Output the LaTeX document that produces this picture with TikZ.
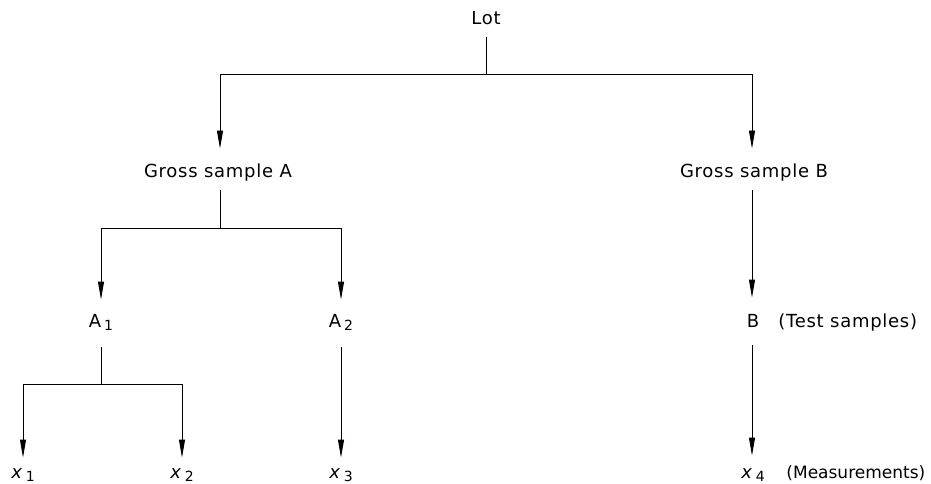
\documentclass[tikz,border=0pt]{standalone}
\usepackage{fontspec}
\setmainfont{DejaVu Sans}[LetterSpace=4]
\usetikzlibrary{arrows.meta}

% label with a lowered index, e.g. A_1 or x_1
\newcommand{\idx}[2]{#1\,\raisebox{-3pt}{\fontsize{14}{14}\selectfont #2}}

\begin{document}
\begin{tikzpicture}[x=1pt, y=-1pt, line width=0.9pt,
  lbl/.style={inner sep=0pt, text height=13pt, text depth=4pt,
              font=\fontsize{18}{20}\selectfont},
  note/.style={inner sep=0pt, anchor=base west, font=\fontsize{18}{20}\selectfont},
  arr/.style={-{Triangle[length=18pt,width=6pt]}}
]
\useasboundingbox (0,0) rectangle (931,484);

% ---- labels ----
\node[lbl, anchor=base] (lot) at (486,25) {Lot};
\node[lbl, anchor=base] (gsA) at (218,177) {Gross sample A};
\node[lbl, anchor=base] (gsB) at (754,177) {Gross sample B};
\node[lbl, anchor=base] (a1) at (101,327) {\idx{A}{1}};
\node[lbl, anchor=base] (a2) at (341,327) {\idx{A}{2}};
\node[lbl, anchor=base] (b) at (753,327) {B};
\node[note] (bnote) at (778,327) {(Test samples)};
\node[lbl, anchor=base] (x1) at (23,478) {\idx{\textit{x}}{1}};
\node[lbl, anchor=base] (x2) at (182,478) {\idx{\textit{x}}{2}};
\node[lbl, anchor=base] (x3) at (341,478) {\idx{\textit{x}}{3}};
\node[lbl, anchor=base] (x4) at (753,478) {\idx{\textit{x}}{4}};
\node[note, font=\fontsize{17}{19}\selectfont\addfontfeature{LetterSpace=0}] (xnote) at (786,478) {(Measurements)};

% ---- branch points ----
\coordinate (lotL) at (220,74);
\coordinate (lotR) at (752,74);
\coordinate (gsAL) at (101,228);
\coordinate (gsAR) at (341,228);
\coordinate (a1L) at (23,384);
\coordinate (a1R) at (182,384);

% Lot -> gross samples
\draw[shorten <=8pt] (lot.south) -- (lot.south |- lotL);
\draw (lotL) -- (lotR);
\draw[arr, shorten >=15pt] (lotL) -- (lotL |- gsA.north);
\draw[arr, shorten >=15pt] (lotR) -- (lotR |- gsB.north);

% Gross sample A -> A1, A2
\draw[shorten <=9pt] (lotL |- gsA.south) -- (lotL |- gsAL);
\draw (gsAL) -- (gsAR);
\draw[arr, shorten >=14pt] (gsAL) -- (gsAL |- a1.north);
\draw[arr, shorten >=14pt] (gsAR) -- (gsAR |- a2.north);

% Gross sample B -> B
\draw[arr, shorten <=9pt, shorten >=16pt] (lotR |- gsB.south) -- (lotR |- b.north);

% A1 -> x1, x2
\draw[shorten <=16pt] (gsAL |- a1.south) -- (gsAL |- a1L);
\draw (a1L) -- (a1R);
\draw[arr, shorten >=7pt] (a1L) -- (a1L |- x1.north);
\draw[arr, shorten >=7pt] (a1R) -- (a1R |- x2.north);

% A2 -> x3, B -> x4
\draw[arr, shorten <=16pt, shorten >=7pt] (gsAR |- a2.south) -- (gsAR |- x3.north);
\draw[arr, shorten <=14pt, shorten >=9pt] (lotR |- b.south) -- (lotR |- x4.north);
\end{tikzpicture}
\end{document}
